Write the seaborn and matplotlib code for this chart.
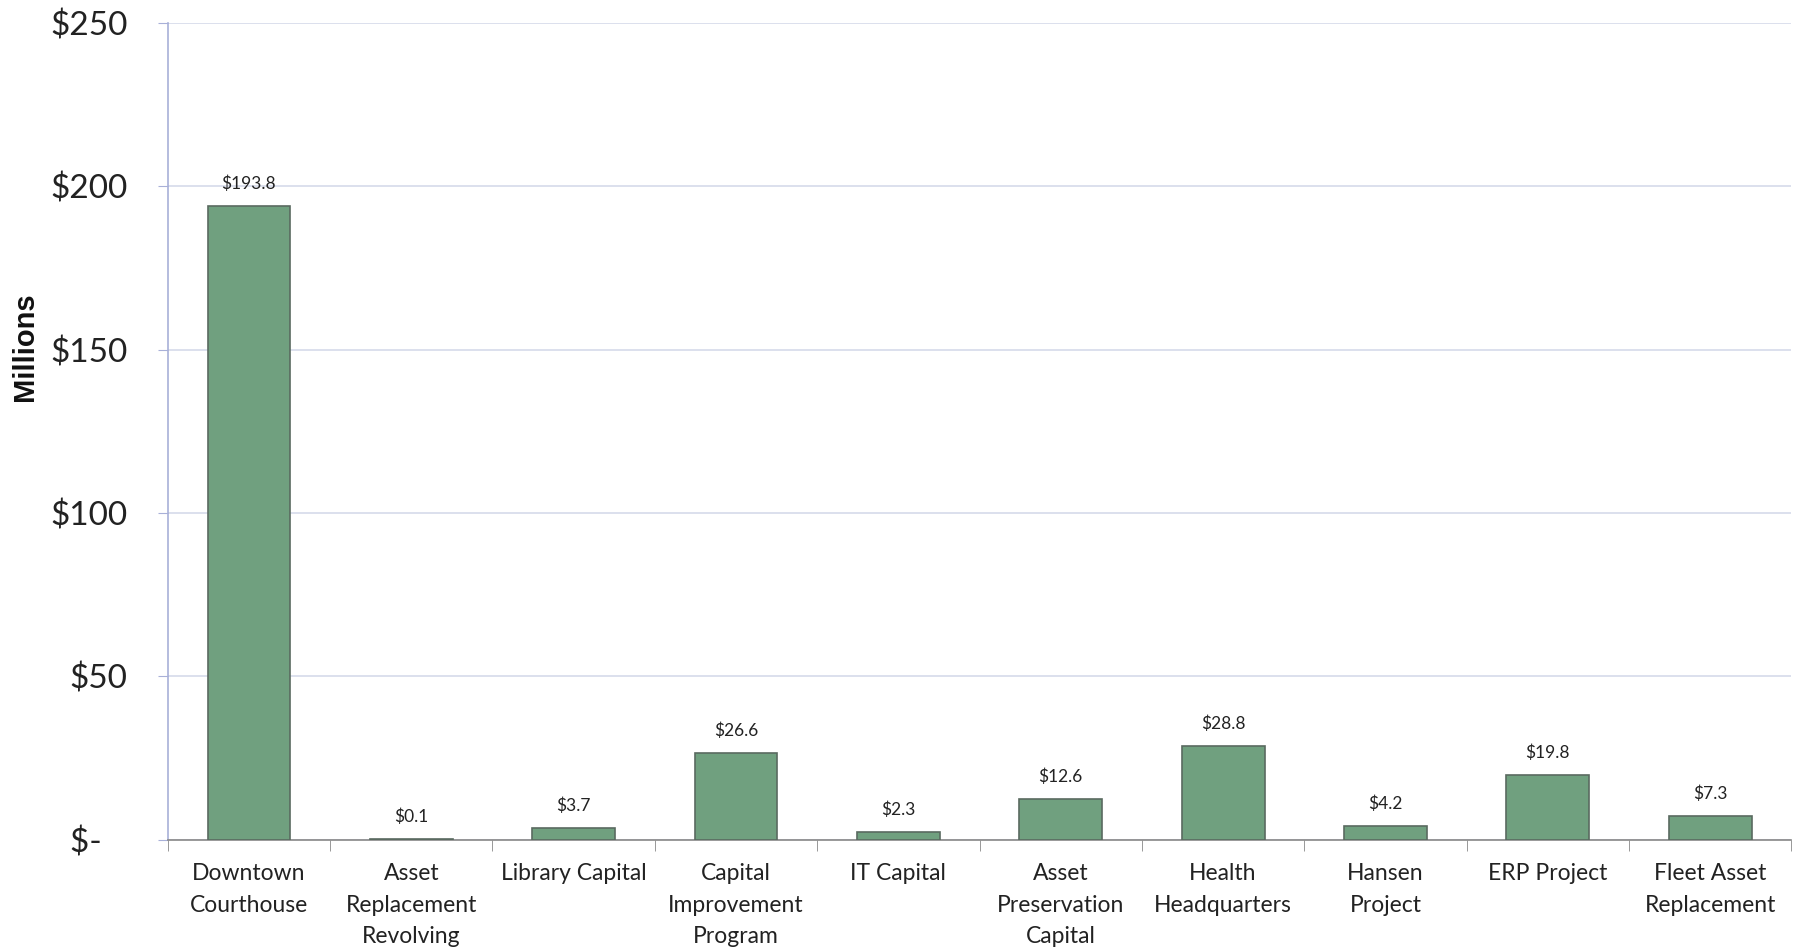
import matplotlib
matplotlib.use("Agg")
import matplotlib.pyplot as plt
import numpy as np
import pandas as pd
import seaborn as sns

# capital project spending, millions of dollars
projects = ["Downtown\nCourthouse", "Asset\nReplacement\nRevolving", "Library Capital",
            "Capital\nImprovement\nProgram", "IT Capital", "Asset\nPreservation\nCapital",
            "Health\nHeadquarters", "Hansen\nProject", "ERP Project", "Fleet Asset\nReplacement"]
amounts = [193.8, 0.1, 3.7, 26.6, 2.3, 12.6, 28.8, 4.2, 19.8, 7.3]
y_ticks = [0, 50, 100, 150, 200, 250]
y_tick_labels = ["$-   ", "$50", "$100", "$150", "$200", "$250"]

df = pd.DataFrame({"project": projects, "amount": amounts})

sns.set_style("white")
plt.rcParams['font.family'] = ['Lato', 'DejaVu Sans']

fig = plt.figure(figsize=(18.04, 9.5), dpi=100)
ax = fig.add_axes([0.093, 0.116, 0.9, 0.86])

sns.barplot(data=df, x="project", y="amount", color="#70a07f", saturation=1,
            width=0.51, edgecolor="#5a6a60", linewidth=1.2, ax=ax, zorder=3)

# value labels over bars
for i, v in enumerate(amounts):
    ax.text(i, v + 4.3, f"${v:.1f}", ha="center", va="bottom", fontsize=12.5, color="#222222")

ax.set_ylim(0, 250)
ax.set_xlim(-0.5, len(projects) - 0.5)
ax.set_yticks(y_ticks)
ax.set_yticklabels(y_tick_labels, fontsize=24, color="#222222")
ax.tick_params(axis="y", length=7, color="#a8b0d8", pad=22, direction="out", left=True)
ax.yaxis.grid(True, color="#d6daea", linewidth=1.2, zorder=0)

ax.set_xticks(range(len(projects)))
ax.set_xticklabels(projects, fontsize=16.5, color="#222222", linespacing=1.62)
ax.tick_params(axis="x", length=0, pad=17)
ax.set_xticks(np.arange(-0.5, len(projects), 1), minor=True)
ax.tick_params(axis="x", which="minor", length=8, color="#888888", bottom=True)

ax.set_xlabel("")
ax.set_ylabel("")
fig.text(0.014, 0.635, "Millions", rotation=90, ha="center", va="center",
         fontsize=21, fontweight="bold", color="#111111", family=["Liberation Sans", "DejaVu Sans"])

for s in ["top", "right"]:
    ax.spines[s].set_visible(False)
ax.spines["left"].set_color("#a8b0d8")
ax.spines["left"].set_linewidth(1.2)
ax.spines["bottom"].set_color("#888888")
ax.spines["bottom"].set_linewidth(1.2)

fig.savefig("out.png", dpi=100, facecolor="white")
